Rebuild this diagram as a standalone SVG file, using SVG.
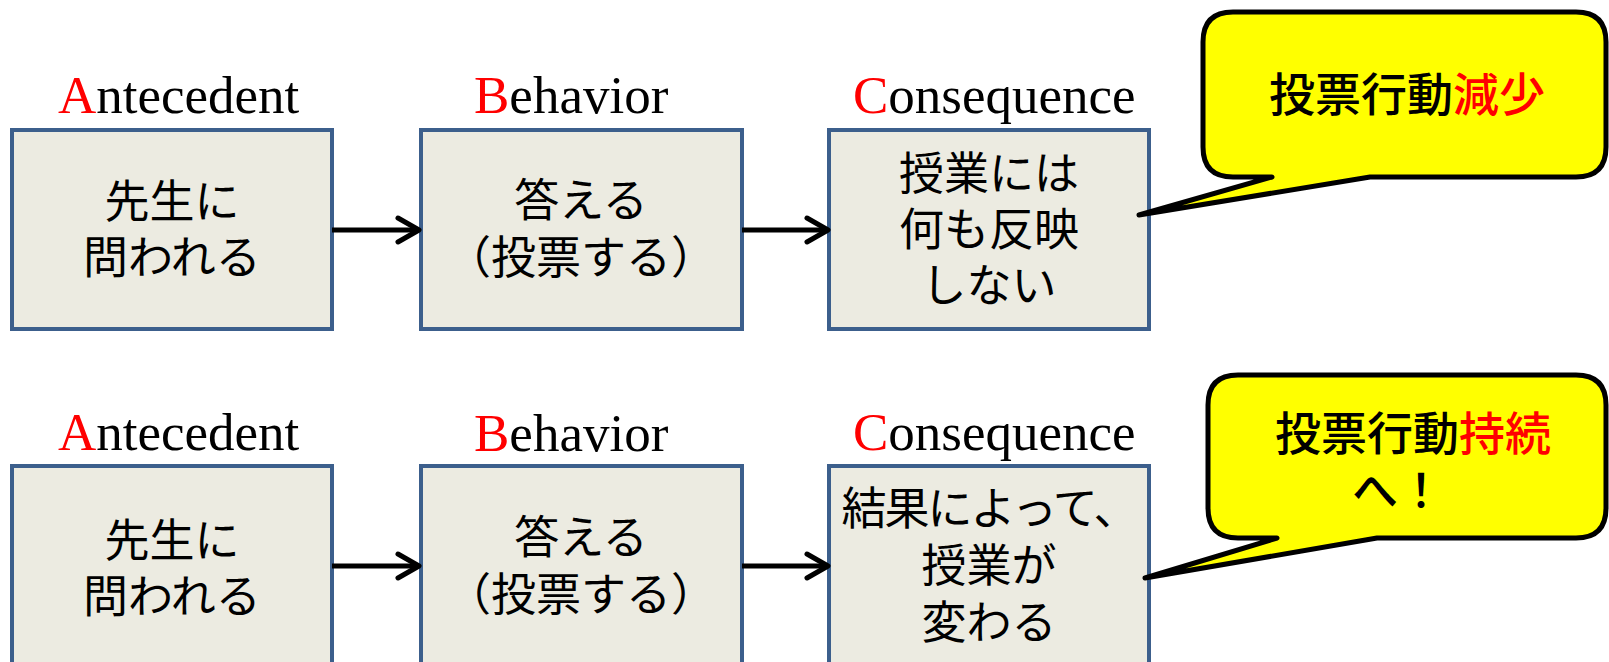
<svg xmlns="http://www.w3.org/2000/svg" width="1609" height="662" viewBox="0 0 1609 662">
<defs>
<style>
.box{fill:#ecebe1;stroke:#3c5f8c;stroke-width:4}
.lbl{font-family:"Liberation Serif","Times New Roman",serif;font-size:53px;fill:#000}
.red{fill:#ff0000}
.jp{font-family:"Noto Sans CJK JP","Noto Sans CJK SC",sans-serif;font-size:45px;fill:#000;text-anchor:middle}
.cj{font-family:"Noto Sans CJK JP","Noto Sans CJK SC",sans-serif;font-size:46px;font-weight:500;fill:#000;text-anchor:middle}
.call{fill:#ffff00;stroke:#000;stroke-width:5;stroke-linejoin:round}
.conn{fill:none;stroke:#000;stroke-width:5}
.head{fill:none;stroke:#000;stroke-width:5;stroke-linecap:round;stroke-linejoin:round}
</style>
</defs>
<rect width="1609" height="662" fill="#ffffff"/>

<!-- Row 1 -->
<g id="label-a1"><text class="lbl" x="58" y="113"><tspan class="red">A</tspan>ntecedent</text></g>
<g id="label-b1"><text class="lbl" x="474" y="113"><tspan class="red">B</tspan>ehavior</text></g>
<g id="label-c1"><text class="lbl" x="853" y="113"><tspan class="red">C</tspan>onsequence</text></g>

<g id="node-a1">
<rect class="box" x="12" y="130" width="320" height="199"/>
<text class="jp" x="172" y="218">先生に</text>
<text class="jp" x="172" y="274">問われる</text>
</g>
<g id="node-b1">
<rect class="box" x="421" y="130" width="321" height="199"/>
<text class="jp" x="581" y="217">答える</text>
<text class="jp" x="581" y="274">（投票する）</text>
</g>
<g id="node-c1">
<rect class="box" x="829" y="130" width="320" height="199"/>
<text class="jp" x="989" y="190">授業には</text>
<text class="jp" x="989" y="246">何も反映</text>
<text class="jp" x="989" y="302">しない</text>
</g>
<g id="callout-1">
<path class="call" d="M1233,12 H1576 Q1606,12 1606,42 V147 Q1606,177 1576,177 H1370 L1139,215 L1272,177 H1233 Q1203,177 1203,147 V42 Q1203,12 1233,12 Z"/>
<text class="cj" x="1407" y="111">投票行動<tspan class="red">減少</tspan></text>
</g>

<!-- Row 2 -->
<g id="label-a2"><text class="lbl" x="58" y="450"><tspan class="red">A</tspan>ntecedent</text></g>
<g id="label-b2"><text class="lbl" x="474" y="451"><tspan class="red">B</tspan>ehavior</text></g>
<g id="label-c2"><text class="lbl" x="853" y="450"><tspan class="red">C</tspan>onsequence</text></g>

<g id="node-a2">
<rect class="box" x="12" y="466" width="320" height="199"/>
<text class="jp" x="172" y="557">先生に</text>
<text class="jp" x="172" y="613">問われる</text>
</g>
<g id="node-b2">
<rect class="box" x="421" y="466" width="321" height="199"/>
<text class="jp" x="581" y="554">答える</text>
<text class="jp" x="581" y="611">（投票する）</text>
</g>
<g id="node-c2">
<rect class="box" x="829" y="466" width="320" height="199"/>
<text class="jp" x="989" y="525" letter-spacing="-2">結果によって、</text>
<text class="jp" x="989" y="582">授業が</text>
<text class="jp" x="989" y="639">変わる</text>
</g>
<g id="callout-2">
<path class="call" d="M1238,375 H1576 Q1606,375 1606,405 V508 Q1606,538 1576,538 H1377 L1145,578 L1277,538 H1238 Q1208,538 1208,508 V405 Q1208,375 1238,375 Z"/>
<text class="cj" x="1413" y="450">投票行動<tspan class="red">持続</tspan></text>
<text class="cj red" x="1398" y="507">へ！</text>
</g>

<!-- Connectors -->
<g id="connectors">
<line class="conn" x1="332" y1="230" x2="417" y2="230"/>
<polyline class="head" points="398,218 419,230 398,242"/>
<line class="conn" x1="742" y1="230" x2="826" y2="230"/>
<polyline class="head" points="807,218 828,230 807,242"/>
<line class="conn" x1="332" y1="566" x2="417" y2="566"/>
<polyline class="head" points="398,554 419,566 398,578"/>
<line class="conn" x1="742" y1="566" x2="826" y2="566"/>
<polyline class="head" points="807,554 828,566 807,578"/>
</g>
</svg>
